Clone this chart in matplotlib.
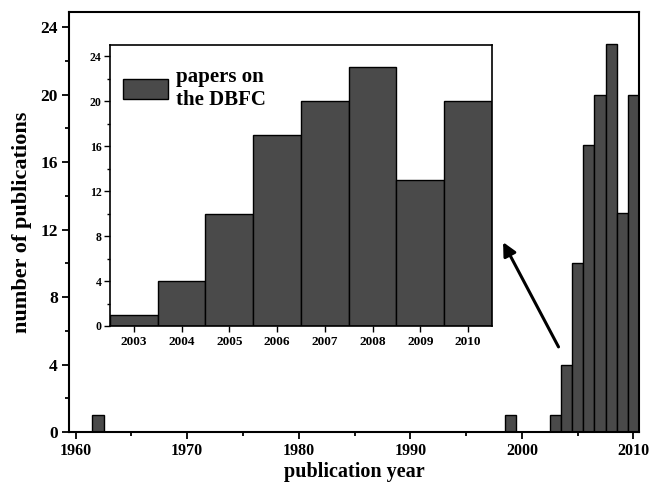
import numpy as np
import matplotlib
matplotlib.use("Agg")
import matplotlib.pyplot as plt
from matplotlib.ticker import MultipleLocator

plt.rcParams['font.family'] = ['Liberation Serif', 'DejaVu Serif']
plt.rcParams['font.weight'] = 'bold'

# all publications per year
years = [1962, 1999, 2003, 2004, 2005, 2006, 2007, 2008, 2009, 2010]
counts = [1, 1, 1, 4, 10, 17, 20, 23, 13, 20]

# inset: papers on the DBFC
inset_years = [2003, 2004, 2005, 2006, 2007, 2008, 2009, 2010]
inset_counts = [1, 4, 10, 17, 20, 23, 13, 20]

bar_color = '#4a4a4a'

fig = plt.figure(figsize=(6.49, 4.87), dpi=100)
ax = fig.add_axes([0.1063, 0.1129, 0.8783, 0.8625])

ax.bar(years, counts, width=1.0, color=bar_color, edgecolor='black', linewidth=1.0)
ax.set_xlim(1959.4, 2010.5)
ax.set_ylim(0, 24.9)
ax.xaxis.set_major_locator(MultipleLocator(10))
ax.xaxis.set_minor_locator(MultipleLocator(5))
ax.yaxis.set_major_locator(MultipleLocator(4))
ax.yaxis.set_minor_locator(MultipleLocator(2))
ax.tick_params(which='both', direction='out', width=1.3)
ax.tick_params(axis='x', labelsize=11.5, pad=3)
ax.tick_params(axis='y', labelsize=12.5, pad=3)
ax.tick_params(which='major', length=5)
ax.tick_params(which='minor', length=3)
for s in ax.spines.values():
    s.set_linewidth(1.5)
ax.set_xlabel('publication year', fontsize=14.5, fontweight='bold', labelpad=2)
ax.set_ylabel('number of publications', fontsize=16, fontweight='bold', labelpad=6)

ax.annotate('', xy=(1998.2, 11.4), xytext=(2003.4, 4.9),
            arrowprops=dict(arrowstyle='-|>', color='black', lw=2.2,
                            mutation_scale=20))

# inset
ins = fig.add_axes([0.1695, 0.3306, 0.5885, 0.577])
ins.bar(inset_years, inset_counts, width=1.0, color=bar_color, edgecolor='black',
        linewidth=1.0, label='papers on\nthe DBFC')
ins.set_xlim(2002.5, 2010.5)
ins.set_ylim(0, 25)
ins.set_xticks(inset_years)
ins.yaxis.set_major_locator(MultipleLocator(4))
ins.yaxis.set_minor_locator(MultipleLocator(2))
ins.tick_params(which='both', direction='out', width=1.0)
ins.tick_params(axis='x', labelsize=9.5, pad=3)
ins.tick_params(axis='y', labelsize=8.5, pad=2)
ins.tick_params(which='major', length=4)
ins.tick_params(which='minor', length=2)
for s in ins.spines.values():
    s.set_linewidth(1.2)
leg = ins.legend(loc='upper left', bbox_to_anchor=(0.0, 0.965), fontsize=15,
                 frameon=False, handlelength=2.2, handleheight=1.1,
                 borderaxespad=0.2, handletextpad=0.35)
for t in leg.get_texts():
    t.set_fontweight('bold')

fig.savefig('out.png', dpi=100)
